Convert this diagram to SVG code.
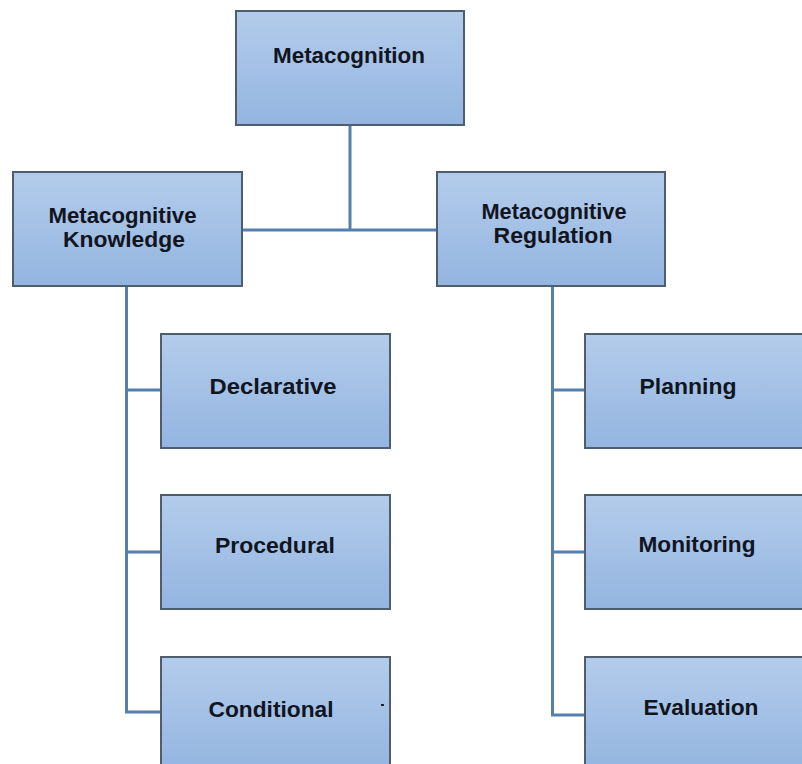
<svg xmlns="http://www.w3.org/2000/svg" width="802" height="764" viewBox="0 0 802 764">
  <defs>
    <linearGradient id="boxFill" x1="0" y1="0" x2="0" y2="1">
      <stop offset="0" stop-color="#b4cceb"/>
      <stop offset="1" stop-color="#93b5e0"/>
    </linearGradient>
    <style>
      .box { fill: url(#boxFill); stroke: #4f5e6f; stroke-width: 2; }
      .label { font-family: "Liberation Sans", Arial, sans-serif; font-weight: bold; font-size: 22px; fill: #10151f; text-anchor: middle; }
      .link { fill: none; stroke: #5580ad; stroke-width: 3; stroke-linejoin: miter; }
    </style>
  </defs>
  <rect width="802" height="764" fill="#ffffff"/>

  <!-- connectors -->
  <g id="connectors">
    <path class="link" d="M350 125 V230"/>
    <path class="link" d="M242 230 H437"/>
    <path class="link" d="M126.5 286 V712 H161"/>
    <path class="link" d="M126.5 390 H161"/>
    <path class="link" d="M126.5 552 H161"/>
    <path class="link" d="M552.5 286 V715 H585"/>
    <path class="link" d="M552.5 390 H585"/>
    <path class="link" d="M552.5 552 H585"/>
  </g>

  <g id="metacognition">
    <rect class="box" x="236" y="11" width="228" height="114"/>
    <text class="label" x="349" y="63" textLength="152" lengthAdjust="spacingAndGlyphs">Metacognition</text>
  </g>

  <g id="metacognitive-knowledge">
    <rect class="box" x="13" y="172" width="229" height="114"/>
    <text class="label" x="122.5" y="223" textLength="148" lengthAdjust="spacingAndGlyphs">Metacognitive</text>
    <text class="label" x="124" y="247" textLength="122" lengthAdjust="spacingAndGlyphs">Knowledge</text>
  </g>

  <g id="metacognitive-regulation">
    <rect class="box" x="437" y="172" width="228" height="114"/>
    <text class="label" x="554" y="219" textLength="145" lengthAdjust="spacingAndGlyphs">Metacognitive</text>
    <text class="label" x="553" y="243" textLength="119" lengthAdjust="spacingAndGlyphs">Regulation</text>
  </g>

  <g id="declarative">
    <rect class="box" x="161" y="334" width="229" height="114"/>
    <text class="label" x="273" y="394" textLength="127" lengthAdjust="spacingAndGlyphs">Declarative</text>
  </g>

  <g id="procedural">
    <rect class="box" x="161" y="495" width="229" height="114"/>
    <text class="label" x="275" y="553" textLength="120" lengthAdjust="spacingAndGlyphs">Procedural</text>
  </g>

  <g id="conditional">
    <rect class="box" x="161" y="657" width="229" height="114"/>
    <text class="label" x="271" y="717" textLength="125" lengthAdjust="spacingAndGlyphs">Conditional</text>
    <rect x="381" y="704" width="3" height="2" fill="#1c2433"/>
  </g>

  <g id="planning">
    <rect class="box" x="585" y="334" width="229" height="114"/>
    <text class="label" x="688" y="394" textLength="97" lengthAdjust="spacingAndGlyphs">Planning</text>
  </g>

  <g id="monitoring">
    <rect class="box" x="585" y="495" width="229" height="114"/>
    <text class="label" x="697" y="552" textLength="117" lengthAdjust="spacingAndGlyphs">Monitoring</text>
  </g>

  <g id="evaluation">
    <rect class="box" x="585" y="657" width="229" height="114"/>
    <text class="label" x="701" y="715" textLength="115" lengthAdjust="spacingAndGlyphs">Evaluation</text>
  </g>
</svg>
